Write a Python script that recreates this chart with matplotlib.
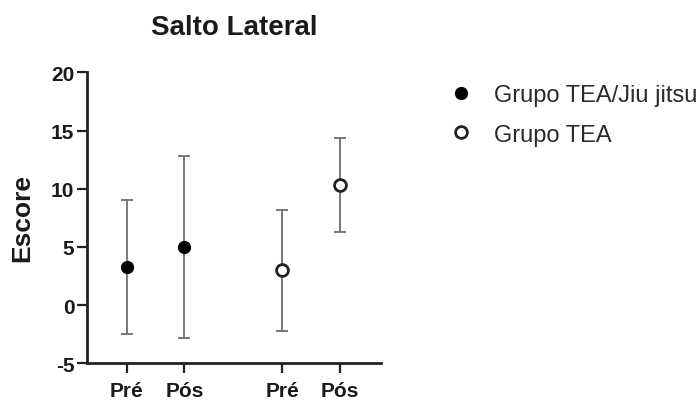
import matplotlib
matplotlib.use("Agg")
import matplotlib.pyplot as plt
import numpy as np

plt.rcParams['font.family'] = ['Liberation Sans', 'DejaVu Sans']
plt.rcParams['axes.unicode_minus'] = False

# Data
tick_labels = ["Pré", "Pós", "Pré", "Pós"]
positions = [1.0, 2.0, 3.7, 4.7]
groups = ["Grupo TEA/Jiu jitsu", "Grupo TEA"]
jj_mean = [3.3, 5.0]
jj_low = [-2.45, -2.85]
jj_high = [9.05, 12.8]
tea_mean = [3.0, 10.3]
tea_low = [-2.25, 6.3]
tea_high = [8.15, 14.35]

fig = plt.figure(figsize=(7.0, 4.02), dpi=100)
ax = fig.add_axes([87/700, 1-364.3/402, (381-87)/700, (364.3-73.3)/402])

err_color = "#6e6e6e"
axis_color = "#222222"

# Group 1 (filled)
x1 = positions[:2]
yerr1 = [np.array(jj_mean) - np.array(jj_low), np.array(jj_high) - np.array(jj_mean)]
ax.errorbar(x1, jj_mean, yerr=yerr1, fmt='none', ecolor=err_color, elinewidth=1.3,
            capsize=4.5, capthick=1.3, zorder=2)
h1, = ax.plot(x1, jj_mean, 'o', color='black', markersize=8.5, zorder=3, linestyle='none')

# Group 2 (open)
x2 = positions[2:]
yerr2 = [np.array(tea_mean) - np.array(tea_low), np.array(tea_high) - np.array(tea_mean)]
ax.errorbar(x2, tea_mean, yerr=yerr2, fmt='none', ecolor=err_color, elinewidth=1.3,
            capsize=4.5, capthick=1.3, zorder=2)
h2, = ax.plot(x2, tea_mean, 'o', markerfacecolor='white', markeredgecolor='#222222',
              markeredgewidth=2.0, markersize=8.5, zorder=3, linestyle='none')

ax.set_xlim(0.31, 5.415)
ax.set_ylim(-5, 20)
ax.set_yticks([-5, 0, 5, 10, 15, 20])
ax.set_xticks(positions)
ax.set_xticklabels(tick_labels)

for s in ['top', 'right']:
    ax.spines[s].set_visible(False)
for s in ['left', 'bottom']:
    ax.spines[s].set_linewidth(2.0)
    ax.spines[s].set_color(axis_color)

ax.tick_params(axis='both', length=7.5, width=1.6, color=axis_color, labelsize=15,
               labelcolor='#1a1a1a')
ax.tick_params(axis='y', pad=1.5)
ax.tick_params(axis='x', pad=5)
for lab in ax.get_xticklabels() + ax.get_yticklabels():
    lab.set_fontweight('bold')

fig.text(22/700, 1-218/402, "Escore", rotation=90, ha='center', va='center',
         fontsize=19, fontweight='bold', color='#1a1a1a')
fig.text(234/700, 1-28/402, "Salto Lateral", ha='center', va='center',
         fontsize=20, fontweight='bold', color='#1a1a1a')

leg = fig.legend([h1, h2], groups, loc='upper left',
                 bbox_to_anchor=(449/700, 1-85/402), frameon=False,
                 fontsize=17, handlelength=1.0, handletextpad=0.9,
                 labelspacing=0.75, borderpad=0, borderaxespad=0)
for t in leg.get_texts():
    t.set_color('#2a2a2a')

fig.savefig("out.png", dpi=100)
